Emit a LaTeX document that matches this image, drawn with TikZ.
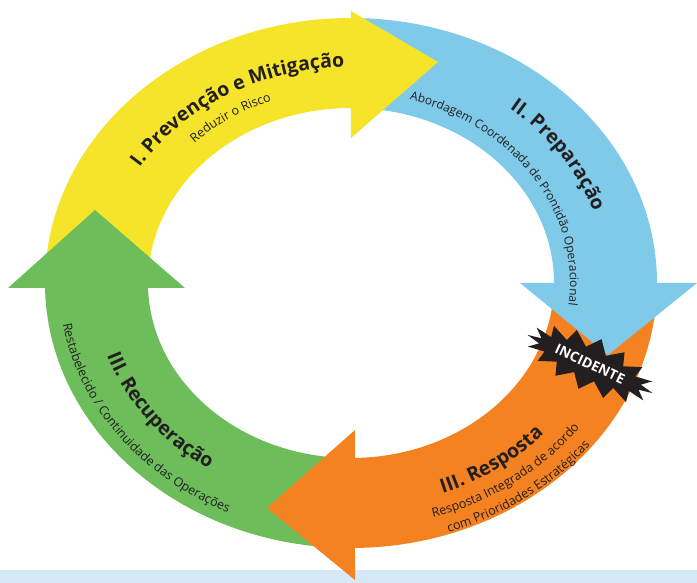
\documentclass[tikz,border=0pt]{standalone}
\usepackage{fontspec}
\setmainfont{Open Sans}
\usetikzlibrary{decorations.text,shapes.symbols}

\definecolor{prevyellow}{HTML}{F5E42A}
\definecolor{prepblue}{HTML}{7FCAE9}
\definecolor{resporange}{HTML}{F58220}
\definecolor{recgreen}{HTML}{6DBE5B}
\definecolor{burstblack}{HTML}{231F20}
\definecolor{stripblue}{HTML}{D6E9F6}
\definecolor{ink}{HTML}{231F20}

\newcommand{\ttlfont}{\bfseries\fontsize{19.5}{24}\selectfont}
\newcommand{\subfont}{\fontsize{12.5}{15}\selectfont}
\newcommand{\smallsubfont}{\fontsize{12}{15}\selectfont}

\tikzset{
every picture/.style={
line width=1pt
},
phase text/.style={decorate, decoration={text along path, text align=center,
    text color=ink, text={#1}}},
incident burst/.style={starburst, starburst points=16, starburst point height=13pt,
    random starburst=0, fill=burstblack, text=white, inner xsep=2pt, inner ysep=5pt,
    font=\bfseries\fontsize{14}{14}\selectfont, rotate=-25}
}

\begin{document}
\begin{tikzpicture}[x=1pt,y=1pt]
      \useasboundingbox (-351,-300) rectangle (346,283);
      \fill[stripblue] (-351,-300) rectangle (346,-287);

      % ring pieces
      \fill[prevyellow] (176:306pt and 265pt) arc[start angle=176, end angle=90, x radius=306pt, y radius=265pt]
        -- (90:203pt and 175pt) arc[start angle=90, end angle=176, x radius=203pt, y radius=175pt] -- cycle;
      \fill[prepblue] (88:306pt and 265pt) arc[start angle=88, end angle=0, x radius=306pt, y radius=265pt]
        -- (0:203pt and 175pt) arc[start angle=0, end angle=88, x radius=203pt, y radius=175pt] -- cycle;
      \fill[resporange] (-2:306pt and 265pt) arc[start angle=-2, end angle=-89.5, x radius=306pt, y radius=265pt]
        -- (-89.5:203pt and 175pt) arc[start angle=-89.5, end angle=-2, x radius=203pt, y radius=175pt] -- cycle;
      \fill[recgreen] (268:306pt and 265pt) arc[start angle=268, end angle=181, x radius=306pt, y radius=265pt]
        -- (181:203pt and 175pt) arc[start angle=181, end angle=268, x radius=203pt, y radius=175pt] -- cycle;

      % heads
      \fill[prevyellow] (0,272) -- (87,221) -- (0,145) -- cycle;
      \fill[prepblue] (169,0) -- (257,-72) -- (346,0) -- cycle;
      \fill[resporange] (4,-147) -- (-84,-225) -- (4,-297) -- cycle;
      \fill[recgreen] (-343,-5) -- (-256,73) -- (-166,-5) -- cycle;

      % labels along the ring
      \path[phase text={|\ttlfont|I. Prevenção e Mitigação}]
        (155:250pt and 216pt) arc[start angle=155, end angle=85, x radius=250pt, y radius=216pt];
      \path[phase text={|\subfont|Reduzir o Risco}]
        (150:225pt and 195pt) arc[start angle=150, end angle=96, x radius=225pt, y radius=195pt];
      \path[phase text={|\ttlfont|II. Preparação}]
        (65:256pt and 222pt) arc[start angle=65, end angle=4, x radius=256pt, y radius=222pt];
      \path[phase text={|\smallsubfont|Abordagem Coordenada de Prontidão Operacional}]
        (80:219pt and 190pt) arc[start angle=80, end angle=-13, x radius=219pt, y radius=190pt];
      \path[phase text={|\ttlfont|III. Recuperação}]
        (185:258pt and 223pt) arc[start angle=185, end angle=249, x radius=258pt, y radius=223pt];
      \path[phase text={|\subfont|Restabelecido / Continuidade das Operações}]
        (178:292pt and 253pt) arc[start angle=178, end angle=255, x radius=292pt, y radius=253pt];
      \path[phase text={|\ttlfont|III. Resposta}]
        (-85:260pt and 225pt) arc[start angle=-85, end angle=-25, x radius=260pt, y radius=225pt];
      \path[phase text={|\subfont|Resposta Integrada de acordo}]
        (-85:283pt and 245pt) arc[start angle=-85, end angle=-23, x radius=283pt, y radius=245pt];
      \path[phase text={|\subfont|com Prioridades Estratégicas}]
        (-85:304pt and 263pt) arc[start angle=-85, end angle=-23, x radius=304pt, y radius=263pt];

      \node[incident burst] (incidente) at (239,-81) {INCIDENTE};
\end{tikzpicture}
\end{document}
